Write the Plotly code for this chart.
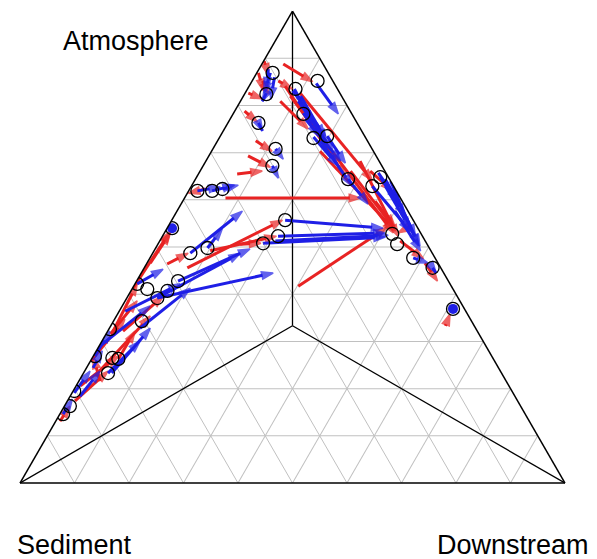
import plotly.graph_objects as go

# Ternary fractions: Atmosphere (a) and Downstream (c); Sediment = 1 - a - c
red_atm_start = [.894, .869, .826, .888, .852, .841, .820, .826, .809, .788, .725, .693, .604, .703, .682,
                 .623, .655, .466, .464, .456, .506, .417, .492, .413, .322, .322, .316, .216, .174, .131,
                 .263, .206, .513, .466, .333, .661, .597, .852, .661, .544, .258, .227]
red_down_start = [.001, .003, .006, .039, .048, .066, .086, .101, .073, .018, .070, .072, .075, .199, .283,
                  .029, .071, .006, .038, .079, .151, .302, .103, .001, .028, .010, .008, .039, .014, .008,
                  .049, .008, .441, .510, .614, .312, .353, .019, .276, .444, .001, .024]
red_atm_end = [.864, .831, .814, .850, .835, .650, .530, .640, .750, .765, .703, .669, .604, .534, .523,
               .614, .661, .530, .487, .557, .508, .542, .523, .534, .396, .422, .386, .267, .237, .163,
               .322, .269, .475, .428, .358, .619, .544, .824, .538, .530, .347, .354]
red_down_end = [.024, .031, .038, .112, .082, .272, .420, .327, .154, .053, .111, .125, .323, .422, .432,
                .002, .114, .011, .065, .203, .188, .403, .209, .009, .065, .004, .022, .001, .043, .010,
                .050, .046, .503, .552, .610, .374, .416, .044, .419, .429, .019, .062]

blue_atm_start = [.869, .860, .826, .847, .835, .820, .784, .733, .735, .763, .708, .672, .644, .648, .640,
                  .629, .619, .619, .623, .487, .498, .557, .508, .523, .392, .392, .428, .422, .328, .233,
                  .244, .191, .146, .233, .269, .477, .456, .608, .644, .566,
                  .831, .809, .771, .725, .877, .629, .657, .576, .513, .364, .290, .184]
blue_down_start = [.025, .037, .039, .120, .086, .105, .128, .172, .196, .056, .115, .127, .280, .337, .360,
                   .332, .016, .043, .060, .069, .095, .208, .192, .212, .056, .056, .076, .004, .056, .052,
                   .012, .004, .006, .045, .003, .483, .529, .385, .348, .424,
                   .085, .106, .138, .189, .017, .356, .329, .400, .212, .011, .002, .018]
blue_atm_end = [.826, .814, .809, .782, .763, .725, .735, .672, .678, .746, .686, .646, .591, .566, .502,
                .534, .627, .631, .631, .576, .538, .540, .521, .530, .445, .487, .496, .453, .413, .328,
                .280, .237, .178, .301, .322, .466, .445, .523, .587, .502,
                .735, .703, .682, .629, .835, .538, .597, .492, .525, .422, .375, .237]
blue_down_end = [.035, .053, .040, .193, .155, .200, .180, .248, .258, .072, .140, .151, .343, .424, .480,
                 .449, .054, .078, .085, .120, .102, .396, .410, .405, .242, .161, .174, .036, .106, .075,
                 .011, .010, .007, .070, .004, .516, .541, .464, .404, .483,
                 .193, .223, .247, .295, .035, .447, .395, .489, .413, .083, .051, .028]

blue_dot_atm = [.540, .369]
blue_dot_down = [.009, .610]

circle_atm = [.869, .824, .852, .835, .782, .731, .735, .763, .708, .672, .644, .648, .629, .619, .619,
              .623, .540, .487, .498, .557, .508, .523, .428, .407, .422, .411, .343, .326, .269, .265,
              .233, .263, .195, .163, .146, .506, .477, .456, .369, .528, .392]
circle_down = [.029, .040, .120, .088, .129, .173, .196, .056, .115, .127, .280, .337, .332, .016, .043,
               .060, .009, .069, .095, .208, .192, .212, .076, .067, .004, .028, .052, .002, .003, .037,
               .045, .049, .002, .010, .006, .439, .483, .529, .610, .419, .056]

corner_labels = ["Atmosphere", "Sediment", "Downstream"]

RED = "#e82323"
BLUE = "#1f1fe6"

W, H = 589, 551   # page body has an 8px margin inside the 597x559 window
OFF = 8

fig = go.Figure()

third = 1 / 3
for va, vb, vc in [(1, 0, 0), (0, 1, 0), (0, 0, 1)]:
    fig.add_trace(go.Scatterternary(a=[va, third], b=[vb, third], c=[vc, third], mode="lines",
                                    line=dict(color="black", width=1.3), hoverinfo="skip"))


def add_arrows(a0s, c0s, a1s, c1s, color):
    for a0, c0, a1, c1 in zip(a0s, c0s, a1s, c1s):
        fig.add_trace(go.Scatterternary(
            a=[a0, a1], b=[1 - a0 - c0, 1 - a1 - c1], c=[c0, c1],
            mode="lines+markers",
            line=dict(color=color, width=3),
            marker=dict(size=[0, 12], symbol="arrow", angleref="previous", color=color,
                        line=dict(width=1.5, color=color)),
            hoverinfo="skip"))


add_arrows(red_atm_start, red_down_start, red_atm_end, red_down_end, RED)
add_arrows(blue_atm_start, blue_down_start, blue_atm_end, blue_down_end, BLUE)

fig.add_trace(go.Scatterternary(
    a=blue_dot_atm, b=[1 - x - y for x, y in zip(blue_dot_atm, blue_dot_down)], c=blue_dot_down,
    mode="markers", marker=dict(size=10, color=BLUE, symbol="circle"), hoverinfo="skip"))

fig.add_trace(go.Scatterternary(
    a=circle_atm, b=[1 - x - y for x, y in zip(circle_atm, circle_down)], c=circle_down,
    mode="markers", marker=dict(size=13, symbol="circle-open", color="black", line=dict(width=1.3)),
    hoverinfo="skip"))

axis_style = dict(showticklabels=False, ticks="", showgrid=True, dtick=0.1, tick0=0,
                  gridcolor="#c0c0c0", gridwidth=1, linecolor="black", linewidth=1.5,
                  title=dict(text=""), min=0)

fig.update_layout(
    width=W, height=H,
    margin=dict(l=0, r=0, t=0, b=0),
    paper_bgcolor="white",
    showlegend=False,
    ternary=dict(sum=1, bgcolor="white",
                 domain=dict(x=[0.02037, 0.94567], y=[0.13594, 0.99637]),
                 aaxis=axis_style, baxis=axis_style, caxis=axis_style),
    font=dict(family="Liberation Sans, Arial, sans-serif", color="black"),
)

label_pos = [(136, 41), (74, 545), (513, 545)]
for text, (px, py) in zip(corner_labels, label_pos):
    fig.add_annotation(text=text, x=(px - OFF) / W, y=1 - (py - OFF) / H, xref="paper", yref="paper",
                       showarrow=False, xanchor="center", yanchor="middle",
                       font=dict(size=27, color="black"))

fig.write_html("out.html")
